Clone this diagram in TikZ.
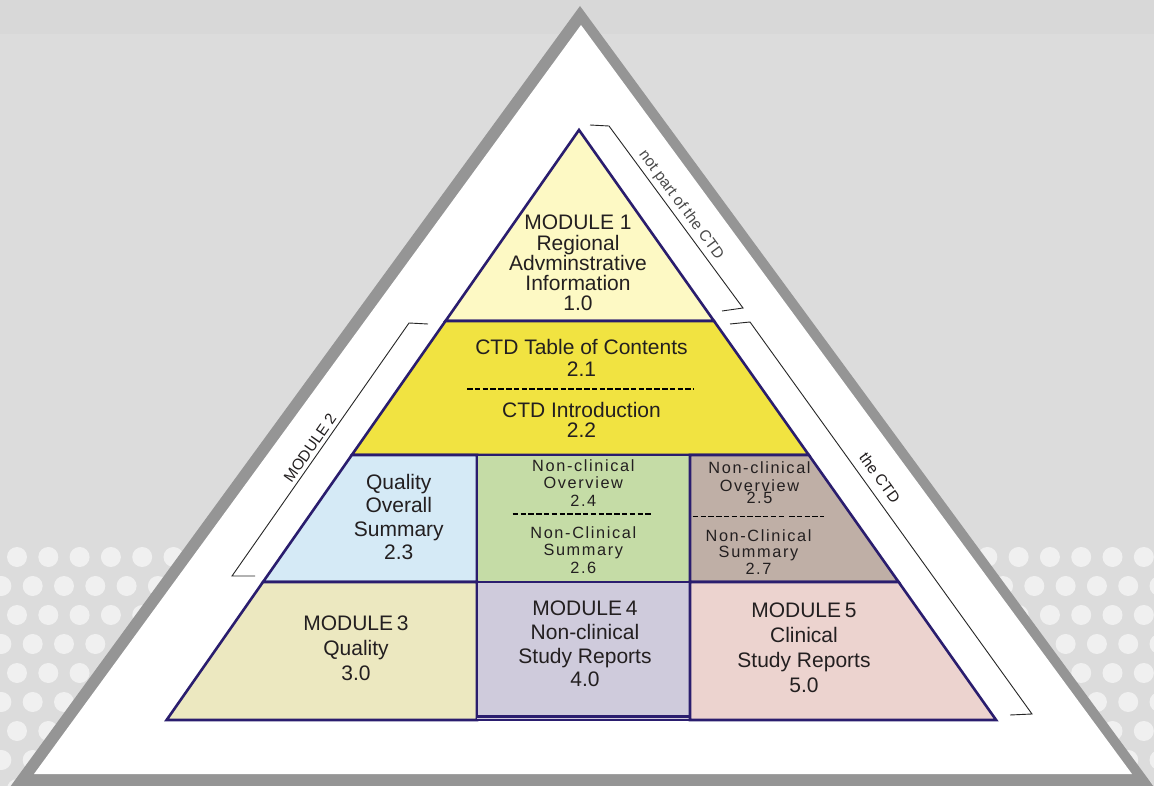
\documentclass[tikz,border=0pt]{standalone}
\usepackage{fontspec}
\setmainfont{Liberation Sans}
\definecolor{bg}{HTML}{DCDCDC}
\definecolor{bgtop}{HTML}{D8D8D8}
\definecolor{dot}{HTML}{F0F0F0}
\definecolor{frame}{HTML}{959595}
\definecolor{navy}{HTML}{2A1D6E}
\definecolor{ink}{HTML}{231F20}
\definecolor{lblgrey}{HTML}{4A4A4A}
\definecolor{mone}{HTML}{FDF9C4}
\definecolor{ctd}{HTML}{F1E341}
\definecolor{qos}{HTML}{D5EAF6}
\definecolor{ncgreen}{HTML}{C5DCA6}
\definecolor{taupe}{HTML}{BFAFA6}
\definecolor{mthree}{HTML}{ECE8C0}
\definecolor{mfour}{HTML}{CFCBDC}
\definecolor{mfive}{HTML}{ECD3CF}
\begin{document}
\begin{tikzpicture}[x=1pt,y=-1pt,
  cell/.style={draw=navy,line width=2.6pt,line join=miter},
  txt/.style={anchor=north,inner sep=0pt,align=center,text=ink},
  bigtxt/.style={txt,font=\fontsize{21}{#1}\selectfont},
  smalltxt/.style={txt,font=\fontsize{16.3}{#1}\selectfont\addfontfeature{LetterSpace=10}},
  dashline/.style={draw=black,line width=1.1pt,dash pattern=on 5.5pt off 2.3pt},
  bracket/.style={draw=black!85,line width=0.9pt},
  lbl/.style={inner sep=0pt,font=\fontsize{15.5}{17}\selectfont}]
\useasboundingbox (0,0) rectangle (1154,786);
\clip (0,0) rectangle (1154,786);
% background
\fill[bg] (0,0) rectangle (1154,786);
\fill[bgtop] (0,0) rectangle (1154,34);
\foreach \r in {0,...,8}{
  \pgfmathsetmacro{\yy}{557+29*\r}
  \pgfmathsetmacro{\xo}{mod(\r,2)==0 ? 17 : 1.4}
  \foreach \k in {0,...,37}{
    \fill[dot] ({\xo+31.3*\k},\yy) circle (10);
  }
}
% outer frame triangle
\fill[frame] (580,6) -- (10,787) -- (1154,787) -- cycle;
\fill[white] (581,25) -- (34,774) -- (1132,774) -- cycle;
% pyramid coordinates
\coordinate (apex) at (579,130);
\coordinate (l1) at (445.5,321);
\coordinate (r1) at (714,321);
\coordinate (l2) at (351.8,455);
\coordinate (r2) at (808.8,455);
\coordinate (l3) at (263,582);
\coordinate (r3) at (898.6,582);
\coordinate (l4) at (166.6,720);
\coordinate (r4) at (996.1,720);
\coordinate (da) at (477,455);
\coordinate (db) at (690,455);
\coordinate (dc) at (477,582);
\coordinate (dd) at (690,582);
\coordinate (de) at (477,720);
\coordinate (df) at (690,720);
\coordinate (dg) at (477,716.5);
\coordinate (dh) at (690,716.5);
% cells
\path[cell,fill=mone] (apex) -- (l1) -- (r1) -- cycle;
\path[cell,fill=ctd] (l1) -- (r1) -- (r2) -- (l2) -- cycle;
\path[cell,fill=qos] (l2) -- (da) -- (dc) -- (l3) -- cycle;
\path[cell,fill=ncgreen] (da) -- (db) -- (dd) -- (dc) -- cycle;
\path[cell,fill=taupe] (db) -- (r2) -- (r3) -- (dd) -- cycle;
\path[cell,fill=mthree] (l3) -- (dc) -- (de) -- (l4) -- cycle;
\path[fill=mfour] (dc) rectangle (df);
\path[cell,fill=mfive] (dd) -- (r3) -- (r4) -- (df) -- cycle;
\path[cell] (dc) -- (dd) -- (dh) -- (dg) -- cycle;
\path[cell] (l4) -- (r4);
% dashed separators
\draw[dashline] (467,389) -- (694,389);
\draw[dashline] (512.7,514) -- (653,514);
\draw[dashline] (692.7,516.7) -- (785,516.7);
\draw[dashline] (789,516.7) -- (824,516.7);
% texts
\node[bigtxt=20.25] (m1) at (578,215.1) {MODULE 1\\Regional\\Adv\-minstrative\\Information\\1.0};
\node[bigtxt=21.7] (ctda) at (581.5,339) {CTD Table of Contents\\2.1};
\node[bigtxt=20.3] (ctdb) at (581.5,401.6) {CTD Introduction\\2.2};
\node[bigtxt=23.3] (qostxt) at (398.8,474) {Quality\\Overall\\Summary\\2.3};
\node[smalltxt=17.5] (ncov) at (583.3,459.3) {Non-clinical\\Overview\\2.4};
\node[smalltxt=17.2] (ncsum) at (583.3,526.6) {Non-Clinical\\Summary\\2.6};
\node[smalltxt=18] (ncovb) at (759.5,461) {Non-clinical\\Overview\\[-5.7pt]2.5};
\node[smalltxt=16.7] (ncsumb) at (758.5,529) {Non-Clinical\\Summary\\2.7};
\node[bigtxt=25] (m3) at (356,616) {MODULE\hspace{-2pt} 3\\Quality\\3.0};
\node[bigtxt=23.7] (m4) at (585,601) {MODULE\hspace{-2pt} 4\\Non-clinical\\Study Reports\\4.0};
\node[bigtxt=25] (m5) at (804,603) {MODULE\hspace{-2pt} 5\\Clinical\\Study Reports\\5.0};
% brackets
\coordinate (ba1) at (590,125);
\coordinate (ba2) at (609,126);
\coordinate (ba3) at (743,308);
\coordinate (ba4) at (722,311);
\draw[bracket] (ba1) -- (ba2) -- (ba3) -- (ba4);
\node[lbl,text=lblgrey,rotate=-53.6] (nottxt) at (681,205) {not part of the CTD};
\coordinate (bb1) at (730,324);
\coordinate (bb2) at (750,322);
\coordinate (bb3) at (1032,714);
\coordinate (bb4) at (1010,715);
\draw[bracket] (bb1) -- (bb2) -- (bb3) -- (bb4);
\node[lbl,text=ink,rotate=-54.3] (ctdtxt) at (880,478) {the CTD};
\coordinate (bc1) at (428,324);
\coordinate (bc2) at (409,323);
\coordinate (bc3) at (232,576);
\coordinate (bc4) at (255,576);
\draw[bracket] (bc1) -- (bc2) -- (bc3) -- (bc4);
\node[lbl,text=ink,rotate=55] (m2txt) at (310,448) {MODULE 2};
\end{tikzpicture}
\end{document}
